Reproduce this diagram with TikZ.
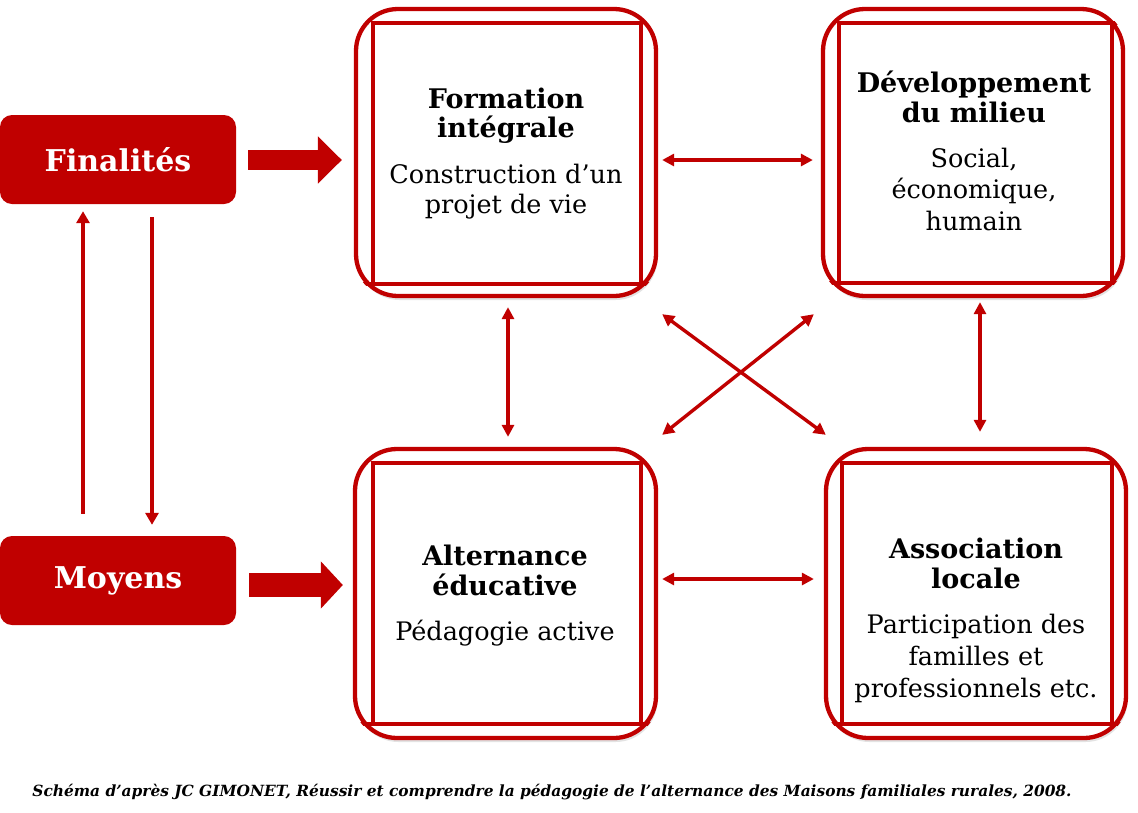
\documentclass[tikz,border=0pt]{standalone}
\usepackage{fontspec}
\setmainfont{DejaVu Serif}
\usetikzlibrary{arrows.meta,calc,shadows}
\definecolor{mfr}{RGB}{192,0,0}
\begin{document}
\begin{tikzpicture}[x=1pt,y=-1pt,
  bigbox/.style={draw=mfr, line width=4.3pt, fill=white, rounded corners=42pt,
    drop shadow={opacity=0.22, shadow xshift=1.5pt, shadow yshift=-4pt}},
  innerline/.style={draw=mfr, line width=4.3pt},
  redbox/.style={fill=mfr, rounded corners=12pt, text=white, font=\fontsize{30}{36}\selectfont\bfseries},
  ttl/.style={anchor=base, inner sep=0pt, font=\fontsize{27}{30}\selectfont\bfseries},
  txt/.style={anchor=base, inner sep=0pt, font=\fontsize{25.5}{30}\selectfont},
  thin/.style={draw=mfr, line width=3.6pt, -{Triangle[length=12pt,width=13pt]}},
  dbl/.style={draw=mfr, line width=3.4pt, {Triangle[length=12pt,width=12pt]}-{Triangle[length=12pt,width=12pt]}}
]
\useasboundingbox (0,0) rectangle (1138,812);
\fill[white] (0,0) rectangle (1138,812);

% red side boxes
\node[redbox, minimum width=236pt, minimum height=89pt] (fin) at (118,159.5) {Finalités};
\node[redbox, minimum width=236pt, minimum height=89pt] (moy) at (118,580.5) {Moyens};

% big boxes
\node[bigbox, minimum width=300pt, minimum height=287pt] (fi) at (506,152.5) {};
\node[bigbox, minimum width=300pt, minimum height=287pt] (dm) at (973,152.5) {};
\node[bigbox, minimum width=301pt, minimum height=289pt] (ae) at (505.5,593.5) {};
\node[bigbox, minimum width=300pt, minimum height=289pt] (al) at (976,593.5) {};

% inner frames
\draw[innerline] (373,23) rectangle (641,284);
\draw[innerline] (839,23) rectangle (1112,283);
\draw[innerline] (373,463) rectangle (641,724);
\draw[innerline] (842,463) rectangle (1112,724);
\begin{scope}
  \clip[rounded corners=42pt] (fi.south west) rectangle (fi.north east);
  \draw[innerline] (340,284) -- (680,284);
\end{scope}
\begin{scope}
  \clip[rounded corners=42pt] (dm.south west) rectangle (dm.north east);
  \draw[innerline] (800,283) -- (1138,283);
  \draw[innerline] (839,23) -- (1138,23);
\end{scope}
\begin{scope}
  \clip[rounded corners=42pt] (ae.south west) rectangle (ae.north east);
  \draw[innerline] (340,724) -- (680,724);
\end{scope}
\begin{scope}
  \clip[rounded corners=42pt] (al.south west) rectangle (al.north east);
  \draw[innerline] (800,724) -- (1138,724);
\end{scope}

% texts
\node[ttl] (fi1) at (506,108) {Formation};
\node[ttl] (fi2) at (506,137) {intégrale};
\node[txt] (fi3) at (506,183) {Construction d’un};
\node[txt] (fi4) at (506,213) {projet de vie};

\node[ttl] (dm1) at (974,92) {Développement};
\node[ttl] (dm2) at (974,122) {du milieu};
\node[txt] (dm3) at (974,167) {Social,};
\node[txt] (dm4) at (974,198) {économique,};
\node[txt] (dm5) at (974,230) {humain};

\node[ttl] (ae1) at (505,565) {Alternance};
\node[ttl] (ae2) at (505,595) {éducative};
\node[txt] (ae3) at (505,640) {Pédagogie active};

\node[ttl] (al1) at (976,558) {Association};
\node[ttl] (al2) at (976,588) {locale};
\node[txt] (al3) at (976,633) {Participation des};
\node[txt] (al4) at (976,665) {familles et};
\node[txt] (al5) at (976,697) {professionnels etc.};

% block arrows
\draw[draw=mfr, line width=20pt, -{Triangle[length=24pt,width=46pt]}, shorten <=12pt, shorten >=12pt]
  (fin.east |- 0,160) -- (fi.west |- 0,160);
\draw[draw=mfr, line width=24pt, -{Triangle[length=22pt,width=46pt]}, shorten <=13pt, shorten >=10pt]
  (moy.east |- 0,585) -- (ae.west |- 0,585);

% thin vertical arrows on the left
\draw[thin, shorten <=22pt, shorten >=7pt] (moy.north -| 83,0) -- (fin.south -| 83,0);
\draw[thin, shorten <=13pt, shorten >=11pt] (fin.south -| 152,0) -- (moy.north -| 152,0);

% double arrows between boxes
\draw[dbl, shorten <=4pt, shorten >=8pt] (fi.east |- 0,160) -- (dm.west |- 0,160);
\draw[dbl, shorten <=4pt, shorten >=10pt] (ae.east |- 0,579) -- (al.west |- 0,579);
\draw[dbl, shorten <=9pt, shorten >=10pt] (fi.south -| 508,0) -- (ae.north -| 508,0);
\draw[dbl, shorten <=4pt, shorten >=15pt] (dm.south -| 980,0) -- (al.north -| 980,0);
\draw[dbl] ($(fi.south east)+(4,16)$) -- ($(al.north west)+(2,-12)$);
\draw[dbl] ($(dm.south west)+(-7,16)$) -- ($(ae.north east)+(4,-12)$);

% caption
\node[anchor=base, inner sep=0pt, font=\fontsize{15.4}{18}\selectfont\bfseries\itshape] (cap) at (552,796)
  {Schéma d’après JC GIMONET, Réussir et comprendre la pédagogie de l’alternance des Maisons familiales rurales, 2008.};
\end{tikzpicture}
\end{document}
